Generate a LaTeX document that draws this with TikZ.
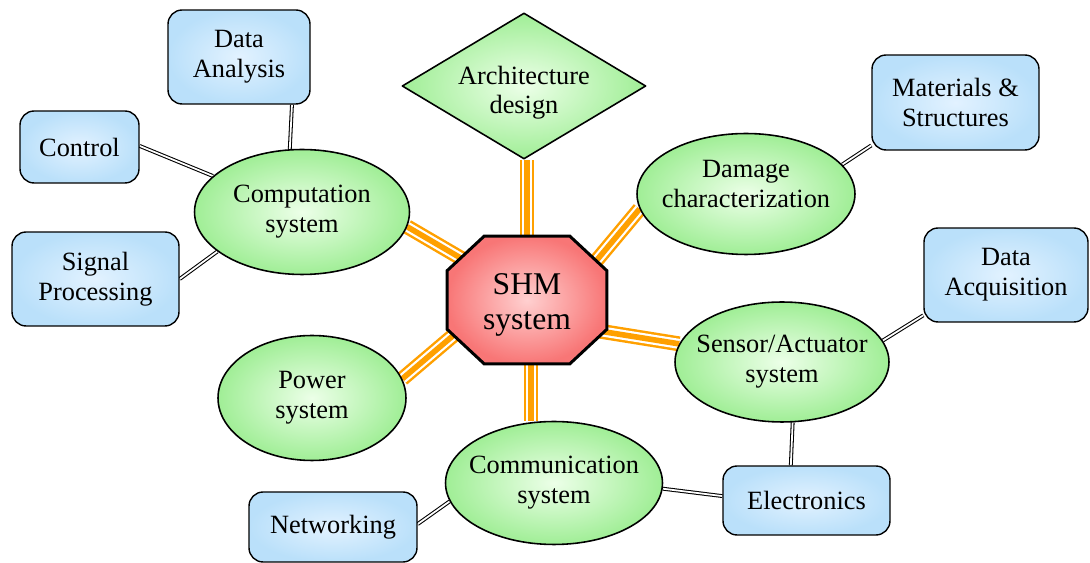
\documentclass[tikz,border=0pt]{standalone}
\usepackage{fontspec}
\setmainfont{Liberation Serif}
\usetikzlibrary{shapes.geometric,backgrounds}

\definecolor{leaf}{RGB}{160,238,150}
\definecolor{leaflight}{RGB}{236,255,232}
\definecolor{sky}{RGB}{186,224,250}
\definecolor{skylight}{RGB}{226,242,255}
\definecolor{rose}{RGB}{248,118,118}
\definecolor{roselight}{RGB}{255,208,208}
\definecolor{amber}{RGB}{255,160,0}

\begin{document}
\begin{tikzpicture}[x=0.02cm,y=-0.02cm,line join=round,
  font=\fontsize{15}{17}\selectfont,
  topic/.style={ellipse,draw,line width=0.9pt,inner color=leaflight,outer color=leaf,
    align=center,inner xsep=-1cm,inner ysep=-0.4cm},
  item/.style={rectangle,rounded corners=8pt,draw,line width=0.8pt,inner color=skylight,
    outer color=sky,align=center,inner sep=0pt},
  link/.style={double,double distance=1pt,line width=0.6pt},
  feed/.style={draw=amber,line width=8.5pt,postaction={draw=white,line width=5.7pt},
    postaction={draw=amber,line width=3.2pt}}]
  \useasboundingbox (0,0) rectangle (1090,563);

  % hub
  \node[inner sep=0pt,minimum width=3.18cm,minimum height=2.54cm,align=center,text height=38pt,
    font=\fontsize{18}{20}\selectfont] (shm) at (527,300) {SHM\\system};
  \node[diamond,draw,line width=0.9pt,inner color=leaflight,outer color=leaf,aspect=1.67,
    inner sep=0pt,minimum width=4.74cm,minimum height=2.84cm,align=center,text height=35pt]
    (arch) at (524,86) {Architecture\\design};

  % subsystems
  \node[topic,minimum width=4.3cm,minimum height=2.5cm] (comp) at (302,212) {Computation\\system};
  \node[topic,minimum width=4.36cm,minimum height=2.42cm,text depth=0.4cm] (dmg) at (746,194)
    {Damage\\characterization};
  \node[topic,minimum width=4.28cm,minimum height=2.4cm] (sen) at (782,362) {Sensor/Actuator\\system};
  \node[topic,minimum width=3.76cm,minimum height=2.5cm] (pwr) at (312,398) {Power\\system};
  \node[topic,minimum width=4.34cm,minimum height=2.46cm] (comm) at (554,483) {Communication\\system};

  % topics
  \node[item,minimum width=2.84cm,minimum height=1.88cm] (ana) at (239,57) {Data\\Analysis};
  \node[item,minimum width=2.38cm,minimum height=1.44cm] (ctl) at (79.5,147) {Control};
  \node[item,minimum width=3.34cm,minimum height=1.88cm] (sig) at (95.5,279) {Signal\\Processing};
  \node[item,minimum width=3.34cm,minimum height=1.9cm] (mat) at (955.5,102.5) {Materials \&\\Structures};
  \node[item,minimum width=3.28cm,minimum height=1.88cm] (acq) at (1006,275) {Data\\Acquisition};
  \node[item,minimum width=3.34cm,minimum height=1.38cm] (ele) at (806.5,500.5) {Electronics};
  \node[item,minimum width=3.36cm,minimum height=1.4cm] (net) at (333,527) {Networking};

  \begin{scope}[on background layer]
    \draw[feed] (shm.north) -- (shm.north |- arch.south);
    \draw[feed] ([xshift=0.08cm]shm.south) -- ([xshift=0.08cm]shm.south |- comm.north);
    \foreach \a/\b in {shm.148/comp.-8.6,shm.33.2/dmg.188.8,shm.-22.7/sen.170.6,shm.207.2/pwr.12} {
      \draw[feed,shorten <=-0.5cm] (\a) -- (\b);
    }
    \foreach \a/\b in {ana.-42.7/comp.101,ctl.1/comp.158.5,sig.0.5/comp.205.4,mat.207/dmg.17.2,
      acq.206.3/sen.12,sen.-80.5/ele.114,comm.-3.2/ele.177.6,net.2.7/comm.190} {
      \draw[link] (\a) -- (\b);
    }
    \shadedraw[line width=1.7pt,line join=miter,inner color=roselight,outer color=rose]
      ([xshift=0.74cm]shm.north west) -- ([xshift=-0.74cm]shm.north east)
      -- ([yshift=-0.69cm]shm.north east) -- ([yshift=0.69cm]shm.south east)
      -- ([xshift=-0.74cm]shm.south east) -- ([xshift=0.74cm]shm.south west)
      -- ([yshift=0.69cm]shm.south west) -- ([yshift=-0.69cm]shm.north west) -- cycle;
  \end{scope}
\end{tikzpicture}
\end{document}
